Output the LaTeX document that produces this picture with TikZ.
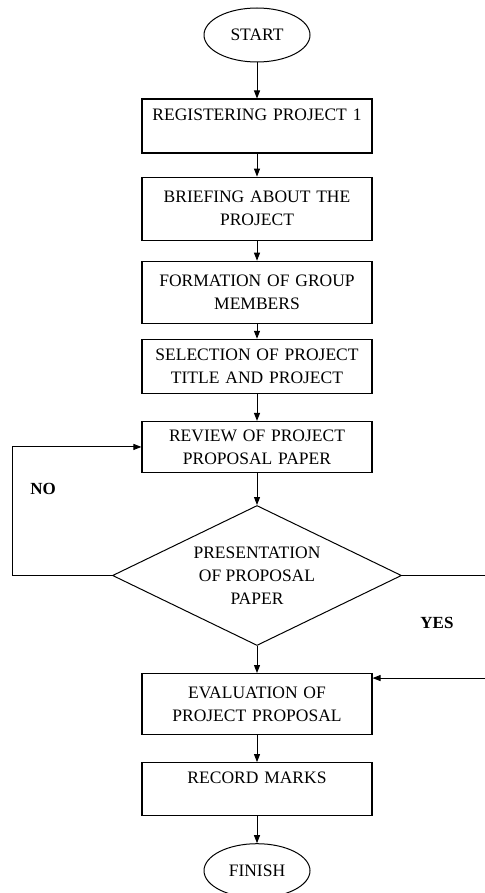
\documentclass[tikz,border=0pt]{standalone}
\usepackage{fontspec}
\setmainfont{Liberation Serif}
\usetikzlibrary{arrows.meta,positioning,shapes.geometric}

\begin{document}
\begin{tikzpicture}[x=1pt, y=-1pt,
  font=\fontsize{17.5}{23}\selectfont,
  term/.style={draw, line width=1pt, ellipse, minimum width=106pt, minimum height=54pt, inner sep=0pt},
  stepbox/.style={draw, line width=1.1pt, minimum width=230pt, text width=216pt, align=center, inner sep=2pt},
  decide/.style={draw, line width=1pt, diamond, aspect=2.06, minimum width=289pt, minimum height=140pt, inner sep=0pt, align=center},
  flow/.style={-{Triangle[length=8pt,width=6pt]}, line width=1pt},
  lab/.style={font=\fontsize{17}{20}\selectfont\bfseries}]
\useasboundingbox (0,0) rectangle (484,893);
\node[term] (start) at (257,35) {START};
\node[stepbox, minimum height=54pt, below=36pt of start] (reg) {REGISTERING PROJECT 1\\\mbox{}};
\node[stepbox, minimum height=63pt, below=23pt of reg] (brief) {BRIEFING ABOUT THE\\PROJECT};
\node[stepbox, minimum height=62pt, below=20pt of brief] (form) {FORMATION OF GROUP\\MEMBERS};
\node[stepbox, minimum height=54pt, below=15pt of form] (sel) {SELECTION OF PROJECT\\TITLE AND PROJECT};
\node[stepbox, minimum height=51pt, below=27pt of sel] (rev) {REVIEW OF PROJECT\\PROPOSAL PAPER};
\node[decide, below=32pt of rev] (dec) {PRESENTATION\\OF PROPOSAL\\PAPER};
\node[stepbox, minimum height=61pt, below=27pt of dec] (eval) {EVALUATION OF\\PROJECT PROPOSAL};
\node[stepbox, minimum height=53pt, below=27pt of eval] (rec) {RECORD MARKS\\\mbox{}};
\node[term, below=27pt of rec] (finish) {FINISH};
\node[lab] (no) at (43,489) {NO};
\node[lab] (yes) at (437,623) {YES};
\coordinate (edge) at (490,0);
\draw[flow] (start) -- (reg);
\draw[flow] (reg) -- (brief);
\draw[flow] (brief) -- (form);
\draw[flow] (form) -- (sel);
\draw[flow] (sel) -- (rev);
\draw[flow] (rev) -- (dec);
\draw[flow] (dec) -- (eval);
\draw[flow] (eval) -- (rec);
\draw[flow] (rec) -- (finish);
\draw[flow] (dec.west) -- ++(-100,0) |- (rev.west);
\draw[flow] (dec.east) -- (dec.east -| edge) |- ([yshift=26pt]eval.east);
\end{tikzpicture}
\end{document}
